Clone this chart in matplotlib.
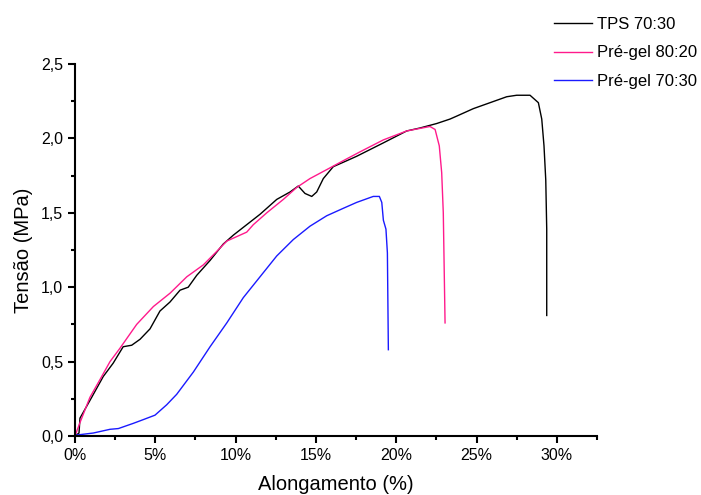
import matplotlib
matplotlib.use("Agg")
import matplotlib.pyplot as plt
from matplotlib.ticker import MultipleLocator, FuncFormatter

plt.rcParams['font.family'] = ['Liberation Sans', 'DejaVu Sans']

# TPS 70:30
tps_x = [0, 0.25, 0.31, 1.04, 1.76, 2.38, 3.0, 3.53, 4.05, 4.67, 5.29, 5.91, 6.54, 7.05,
         7.58, 8.41, 9.23, 9.86, 10.69, 11.52, 12.56, 13.39, 13.9, 14.32, 14.74, 15.05,
         15.46, 16.08, 16.92, 17.54, 19.2, 20.65, 21.48, 22.52, 23.35, 23.77, 24.8, 25.84,
         26.88, 27.5, 28.33, 28.85, 29.06, 29.2, 29.31, 29.37, 29.37]
tps_y = [0.0, 0.02, 0.12, 0.26, 0.40, 0.49, 0.60, 0.61, 0.65, 0.72, 0.84, 0.90, 0.98, 1.00,
         1.08, 1.18, 1.29, 1.35, 1.42, 1.49, 1.59, 1.64, 1.68, 1.63, 1.61, 1.64,
         1.73, 1.81, 1.85, 1.88, 1.97, 2.05, 2.07, 2.10, 2.13, 2.15, 2.20, 2.24,
         2.28, 2.29, 2.29, 2.24, 2.13, 1.95, 1.72, 1.39, 0.81]

# Pré-gel 80:20
p80_x = [0, 0.31, 0.93, 1.56, 2.18, 2.8, 3.84, 4.88, 5.92, 6.96, 7.99, 8.82, 9.45, 10.07,
         10.69, 11.1, 11.94, 12.97, 13.8, 14.63, 15.67, 16.7, 17.75, 19.2, 20.65, 22.1,
         22.42, 22.68, 22.83, 22.93, 23.04]
p80_y = [0.0, 0.09, 0.26, 0.38, 0.50, 0.59, 0.75, 0.87, 0.96, 1.07, 1.15, 1.24, 1.31, 1.34,
         1.37, 1.42, 1.50, 1.59, 1.67, 1.73, 1.79, 1.85, 1.91, 1.99, 2.05, 2.08,
         2.06, 1.95, 1.77, 1.50, 0.76]

# Pré-gel 70:30
p70_x = [0, 1.14, 2.18, 2.7, 3.63, 4.25, 4.98, 5.71, 6.33, 7.37, 8.41, 9.45, 10.48, 11.52,
         12.56, 13.59, 14.63, 15.67, 16.7, 17.54, 18.57, 18.95, 19.1, 19.2, 19.36, 19.45, 19.51]
p70_y = [0.005, 0.02, 0.045, 0.05, 0.085, 0.11, 0.14, 0.21, 0.28, 0.43, 0.60, 0.76, 0.93, 1.07,
         1.21, 1.32, 1.41, 1.48, 1.53, 1.57, 1.61, 1.61, 1.57, 1.45, 1.39, 1.23, 0.58]

fig = plt.figure(figsize=(7.01, 4.95), dpi=100)
ax = fig.add_axes([75/701, 1 - 436/495, (597 - 75)/701, (436 - 64)/495])

ax.plot(tps_x, tps_y, color='black', lw=1.0, label='TPS 70:30')
ax.plot(p80_x, p80_y, color='#ff1a8c', lw=1.0, label='Pré-gel 80:20')
ax.plot(p70_x, p70_y, color='#1a1aff', lw=1.0, label='Pré-gel 70:30')

ax.set_xlim(0, 32.5)
ax.set_ylim(0, 2.5)
ax.spines['top'].set_visible(False)
ax.spines['right'].set_visible(False)
for s in ['left', 'bottom']:
    ax.spines[s].set_linewidth(1.5)

ax.xaxis.set_major_locator(MultipleLocator(5))
ax.xaxis.set_minor_locator(MultipleLocator(2.5))
ax.yaxis.set_major_locator(MultipleLocator(0.5))
ax.yaxis.set_minor_locator(MultipleLocator(0.25))
ax.xaxis.set_major_formatter(FuncFormatter(lambda v, p: '%d%%' % round(v)))
ax.yaxis.set_major_formatter(FuncFormatter(lambda v, p: ('%.1f' % v).replace('.', ',')))
ax.tick_params(which='major', direction='out', length=5, width=1.5, labelsize=11.5)
ax.tick_params(which='minor', direction='out', length=3, width=1.5)

ax.set_xlabel('Alongamento (%)', fontsize=14.5, labelpad=9)
ax.set_ylabel('Tensão (MPa)', fontsize=14.5, labelpad=6)

ax.legend(loc='upper left', bbox_to_anchor=(0.905, 1.145), frameon=False, fontsize=12,
          handlelength=2.3, handletextpad=0.3, labelspacing=0.82, borderaxespad=0)

fig.savefig('out.png', dpi=100)
